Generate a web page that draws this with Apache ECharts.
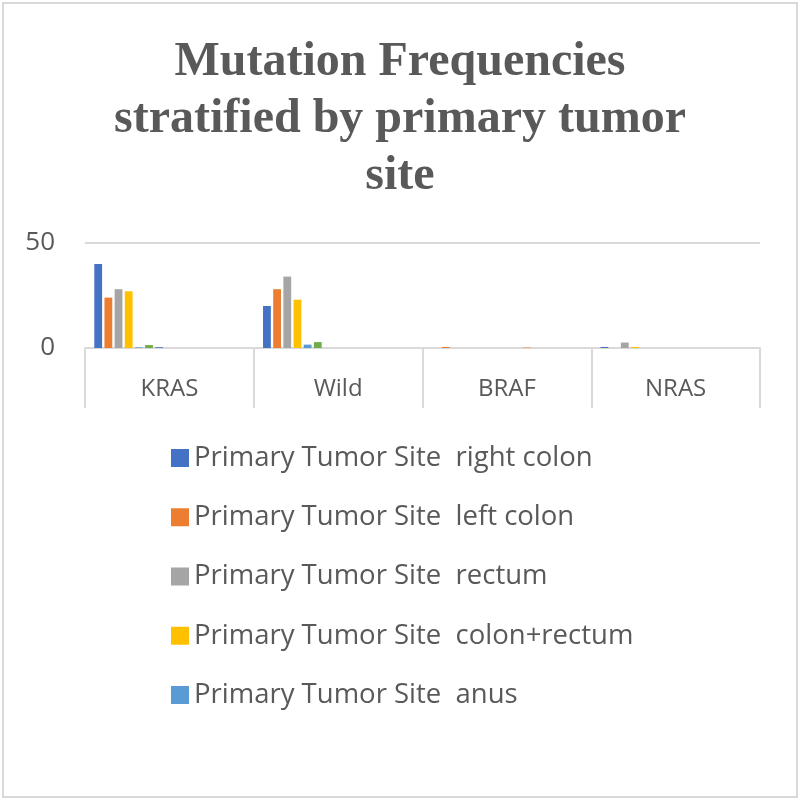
<!DOCTYPE html>
<html><head><meta charset="utf-8">
<script src="https://cdn.jsdelivr.net/npm/echarts@6/dist/echarts.min.js"></script>
<style>html,body{margin:0;padding:0;background:#fff}
#frame{position:absolute;left:2px;top:2px;width:792px;height:792px;border:2px solid #d9d9d9}
#c{position:absolute;left:0;top:0;width:800px;height:800px}</style>
</head><body><div id="frame"></div><div id="c"></div>
<script>
const titleText = "Mutation Frequencies\nstratified by primary tumor\nsite";
const categories = ["KRAS", "Wild", "BRAF", "NRAS"];
const seriesNames = [
  "Primary Tumor Site  right colon",
  "Primary Tumor Site  left colon",
  "Primary Tumor Site  rectum",
  "Primary Tumor Site  colon+rectum",
  "Primary Tumor Site  anus",
  "Series 6", "Series 7", "Series 8", "Series 9", "Series 10",
  "Series 11", "Series 12", "Series 13", "Series 14", "Series 15"
];
const legendShown = seriesNames.slice(0, 5);
// values per series, ordered as categories
const rightColon  = [40, 20, 0, 0.5];
const leftColon   = [24, 28, 0.5, 0];
const rectum      = [28, 34, 0, 2.6];
const colonRectum = [27, 23, 0, 0.5];
const anus        = [0.3, 1.6, 0, 0];
const series6     = [1.4, 2.8, 0, 0];
const series7     = [0.5, 0, 0, 0];
const series8     = [0, 0, 0, 0];
const series9     = [0, 0, 0, 0];
const series10    = [0, 0, 0.5, 0];
const series11    = [0, 0, 0, 0];
const series12    = [0, 0, 0, 0];
const series13    = [0, 0, 0, 0];
const series14    = [0, 0, 0, 0];
const series15    = [0, 0, 0, 0];
const allValues = [rightColon, leftColon, rectum, colonRectum, anus, series6, series7,
  series8, series9, series10, series11, series12, series13, series14, series15];
const colors = ["#4472C4","#ED7D31","#A5A5A5","#FFC000","#5B9BD5","#70AD47","#6F86B8",
  "#9E480E","#636363","#F4B183","#255E91","#43682B","#698ED0","#F1975A","#B7B7B7"];
const yTicks = [0, 50];

const chart = echarts.init(document.getElementById('c'), null, {renderer:'canvas'});
chart.setOption({
  animation: false,
  color: colors,
  title: {
    text: titleText, left: 'center', top: 29,
    textStyle: {fontFamily: 'Liberation Serif', fontWeight: 'bold', fontSize: 48, lineHeight: 57, color: '#595959'}
  },
  legend: {
    data: legendShown, orient: 'vertical', left: 166, top: 435,
    itemWidth: 18, itemHeight: 18, itemGap: 23.25, icon: 'rect',
    textStyle: {fontFamily: 'Open Sans', fontSize: 27.5, color: '#595959', lineHeight: 36}
  },
  grid: {left: 85, right: 40, top: 243, bottom: 452, containLabel: false},
  xAxis: {
    type: 'category', data: categories,
    axisLine: {lineStyle: {color: '#d9d9d9', width: 2}},
    axisTick: {show: true, length: 60, lineStyle: {color: '#d9d9d9', width: 2}},
    axisLabel: {fontFamily: 'Open Sans', fontSize: 24, color: '#595959', margin: 29}
  },
  yAxis: {
    type: 'value', min: yTicks[0], max: yTicks[yTicks.length-1], interval: 50,
    axisLine: {show: false}, axisTick: {show: false},
    axisLabel: {fontFamily: 'Open Sans', fontSize: 26, color: '#595959', margin: 30},
    splitLine: {lineStyle: {color: '#d9d9d9', width: 2}}
  },
  series: allValues.map((vals, i) => ({
    name: seriesNames[i], type: 'bar', data: vals,
    barGap: '30%', barCategoryGap: '11%'
  }))
});
</script></body></html>
